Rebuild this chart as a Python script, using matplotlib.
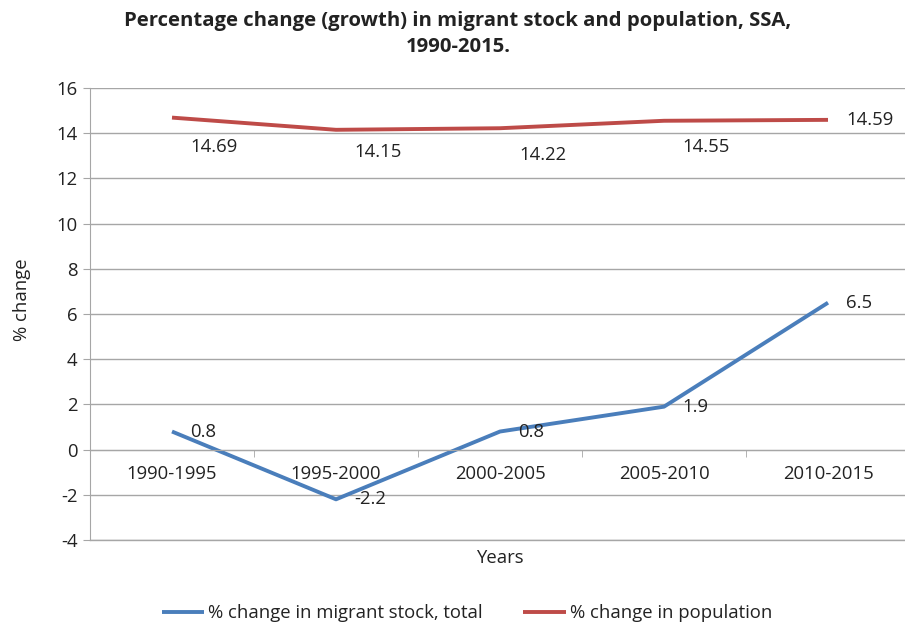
import matplotlib
matplotlib.use("Agg")
import matplotlib.pyplot as plt
from matplotlib.ticker import FixedLocator, NullFormatter

# data
periods = ["1990-1995", "1995-2000", "2000-2005", "2005-2010", "2010-2015"]
migrant_stock = [0.8, -2.2, 0.8, 1.9, 6.5]
population = [14.69, 14.15, 14.22, 14.55, 14.59]

blue = "#4A7EBB"
red = "#BE4B48"
grid_col = "#A6A6A6"
txt = "#222222"
fs = 13.3

plt.rcParams['font.family'] = ['Open Sans', 'DejaVu Sans']
plt.rcParams['axes.unicode_minus'] = False

fig = plt.figure(figsize=(9.05, 6.27), dpi=100)
ax = fig.add_axes([90 / 905, 1 - 540 / 627, 820 / 905, 452 / 627])

x = list(range(len(periods)))
ax.plot(x, migrant_stock, color=blue, lw=2.8, solid_capstyle='butt',
        label="% change in migrant stock, total")
ax.plot(x, population, color=red, lw=2.8, solid_capstyle='butt',
        label="% change in population")

# data labels (offsets in points, right of the point like Excel)
blue_off = [(13, 0)] * 5
red_off = [(13, -21), (13, -16), (14, -19), (13, -19), (13, 0)]
for xi, v, off in zip(x, migrant_stock, blue_off):
    ax.annotate(f"{v:g}", (xi, v), xytext=off, textcoords='offset points',
                ha='left', va='center', fontsize=fs, color=txt)
for xi, v, off in zip(x, population, red_off):
    ax.annotate(f"{v:.2f}", (xi, v), xytext=off, textcoords='offset points',
                ha='left', va='center', fontsize=fs, color=txt)

ax.set_xlim(-0.5, 4.5)
ax.set_ylim(-4, 16)
ax.set_yticks(range(-4, 17, 2))
ax.yaxis.grid(True, color=grid_col, lw=1)
ax.axhline(-4, color=grid_col, lw=1, clip_on=False, zorder=0.5)
ax.set_axisbelow(True)

# category axis crossing at zero
ax.spines['bottom'].set_position(('data', 0))
ax.spines['bottom'].set_color(grid_col)
ax.spines['left'].set_color(grid_col)
ax.spines['top'].set_visible(False)
ax.spines['right'].set_visible(False)
ax.set_xticks(x)
ax.set_xticklabels(periods)
ax.xaxis.set_minor_locator(FixedLocator([0.5, 1.5, 2.5, 3.5]))
ax.xaxis.set_minor_formatter(NullFormatter())
ax.tick_params(axis='x', which='major', length=0, pad=11, labelsize=fs, labelcolor=txt)
ax.tick_params(axis='x', which='minor', length=5, color=grid_col, direction='out')
ax.tick_params(axis='y', length=5, color=grid_col, labelsize=fs, labelcolor=txt, pad=4)

fig.text(500 / 905, 1 - 558 / 627, "Years", ha='center', va='center', fontsize=fs, color=txt)
fig.text(22 / 905, 1 - 300 / 627, "% change", ha='center', va='center', rotation=90,
         fontsize=fs, color=txt)

fig.text(458 / 905, 1 - 34 / 627,
         "Percentage change (growth) in migrant stock and population, SSA,\n1990-2015.",
         ha='center', va='center', fontsize=14.6, fontweight='bold',
         family=['Open Sans', 'DejaVu Sans'], linespacing=1.45, color=txt)

fig.legend(loc='center', bbox_to_anchor=(467 / 905, 1 - 613 / 627), ncol=2, frameon=False,
           fontsize=fs, handlelength=2.3, handletextpad=0.2, columnspacing=2.2,
           labelcolor=txt)

fig.savefig("out.png", dpi=100)
